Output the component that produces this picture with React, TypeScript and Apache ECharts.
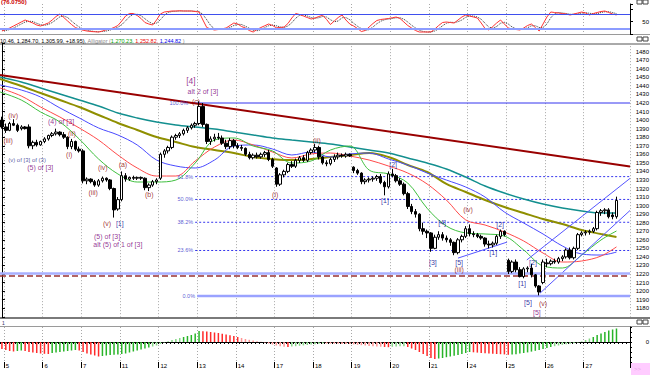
import React, { useEffect, useRef } from "react";
import * as echarts from "echarts";

const FONT = "'Liberation Sans', Arial, sans-serif";

// ---- categories ----
const dayLabels = ["5", "6", "7", "11", "12", "13", "14", "17", "18", "19", "20", "21", "24", "25", "26", "27"];
const barsPerDay = 10;
const slotCount = 163;

// ---- price bars [open, high, low, close] ----
const ohlc: number[][] = [
  [1400, 1404, 1390, 1392], [1392, 1396, 1385, 1388], [1388, 1398, 1387, 1396], [1396, 1401, 1393, 1394], [1394, 1396, 1386, 1388],
  [1390, 1394, 1388, 1392], [1392, 1393, 1389, 1390], [1392, 1395, 1367, 1370], [1370, 1376, 1366, 1374], [1374, 1377, 1369, 1371],
  [1371, 1376, 1370, 1375], [1375, 1380, 1373, 1378], [1378, 1383, 1376, 1382], [1382, 1386, 1380, 1384], [1384, 1390, 1382, 1386],
  [1386, 1387, 1381, 1383], [1383, 1386, 1378, 1380], [1380, 1381, 1366, 1369], [1369, 1378, 1366, 1375], [1375, 1376, 1364, 1366],
  [1366, 1369, 1362, 1364], [1364, 1366, 1326, 1329], [1329, 1333, 1325, 1331], [1331, 1332, 1326, 1328], [1328, 1330, 1322, 1324],
  [1324, 1331, 1322, 1329], [1329, 1334, 1327, 1332], [1332, 1333, 1328, 1330], [1330, 1331, 1318, 1320], [1320, 1321, 1286, 1295],
  [1296, 1310, 1294, 1307], [1307, 1340, 1305, 1335], [1335, 1338, 1328, 1331], [1331, 1334, 1329, 1333], [1333, 1335, 1330, 1332],
  [1332, 1334, 1330, 1333], [1333, 1334, 1330, 1332], [1332, 1333, 1318, 1321], [1321, 1326, 1317, 1324], [1324, 1330, 1322, 1328],
  [1328, 1332, 1325, 1330], [1332, 1362, 1330, 1360], [1360, 1366, 1356, 1364], [1364, 1370, 1361, 1368], [1368, 1382, 1366, 1380],
  [1380, 1384, 1377, 1382], [1382, 1386, 1379, 1384], [1384, 1390, 1382, 1388], [1388, 1393, 1385, 1391], [1391, 1396, 1389, 1394],
  [1394, 1398, 1391, 1396], [1396, 1422, 1394, 1416], [1416, 1420, 1392, 1395], [1395, 1396, 1372, 1375], [1375, 1381, 1371, 1378],
  [1378, 1384, 1375, 1380], [1380, 1385, 1377, 1379], [1379, 1382, 1371, 1373], [1373, 1377, 1366, 1369], [1369, 1379, 1366, 1376],
  [1376, 1378, 1367, 1370], [1370, 1373, 1366, 1368], [1368, 1371, 1364, 1367], [1367, 1368, 1358, 1360], [1360, 1363, 1354, 1356],
  [1356, 1361, 1354, 1359], [1359, 1362, 1355, 1357], [1357, 1362, 1355, 1360], [1360, 1364, 1357, 1362], [1362, 1365, 1352, 1354],
  [1354, 1356, 1344, 1346], [1344, 1345, 1322, 1325], [1325, 1338, 1323, 1336], [1336, 1342, 1333, 1340], [1340, 1350, 1338, 1348],
  [1348, 1352, 1344, 1346], [1346, 1355, 1344, 1353], [1353, 1358, 1350, 1356], [1356, 1359, 1351, 1353], [1353, 1364, 1351, 1362],
  [1362, 1367, 1360, 1365], [1365, 1372, 1362, 1368], [1368, 1370, 1354, 1357], [1357, 1358, 1348, 1350], [1350, 1353, 1346, 1349],
  [1349, 1356, 1347, 1354], [1354, 1360, 1351, 1357], [1357, 1362, 1354, 1359], [1359, 1361, 1356, 1358], [1358, 1362, 1356, 1360],
  [1360, 1361, 1357, 1358], [1345, 1346, 1338, 1341], [1341, 1343, 1336, 1338], [1338, 1339, 1325, 1328], [1328, 1332, 1325, 1330],
  [1330, 1333, 1327, 1331], [1331, 1334, 1328, 1332], [1332, 1336, 1329, 1334], [1334, 1337, 1325, 1327], [1327, 1329, 1312, 1322],
  [1322, 1340, 1320, 1337], [1337, 1343, 1333, 1335], [1335, 1337, 1327, 1329], [1329, 1332, 1323, 1325], [1325, 1327, 1312, 1314],
  [1314, 1316, 1296, 1299], [1299, 1302, 1290, 1293], [1293, 1296, 1286, 1290], [1290, 1291, 1270, 1273], [1273, 1280, 1266, 1270],
  [1270, 1272, 1262, 1268], [1268, 1269, 1246, 1250], [1250, 1266, 1249, 1263], [1263, 1270, 1260, 1266], [1266, 1269, 1259, 1262],
  [1262, 1265, 1257, 1260], [1260, 1262, 1253, 1257], [1257, 1258, 1242, 1245], [1245, 1262, 1243, 1260], [1260, 1266, 1257, 1264],
  [1264, 1276, 1262, 1273], [1273, 1278, 1264, 1267], [1267, 1270, 1263, 1266], [1266, 1268, 1262, 1264], [1264, 1266, 1260, 1262],
  [1262, 1263, 1252, 1255], [1255, 1259, 1250, 1254], [1254, 1258, 1251, 1256], [1256, 1266, 1254, 1264], [1264, 1272, 1261, 1270],
  [1270, 1271, 1264, 1266], [1236, 1238, 1220, 1223], [1223, 1236, 1221, 1234], [1234, 1237, 1222, 1225], [1225, 1228, 1216, 1217],
  [1217, 1228, 1215, 1226], [1226, 1229, 1222, 1227], [1227, 1232, 1216, 1219], [1219, 1220, 1204, 1206], [1206, 1207, 1195, 1199],
  [1210, 1237, 1208, 1234], [1233, 1238, 1228, 1232], [1232, 1237, 1230, 1235], [1235, 1238, 1232, 1234], [1234, 1240, 1232, 1238],
  [1238, 1242, 1235, 1240], [1240, 1250, 1238, 1248], [1248, 1251, 1237, 1239], [1239, 1252, 1237, 1250], [1250, 1268, 1248, 1266],
  [1266, 1270, 1264, 1268], [1268, 1271, 1265, 1269], [1269, 1272, 1266, 1270], [1270, 1275, 1268, 1273], [1273, 1294, 1271, 1292],
  [1292, 1296, 1288, 1294], [1294, 1297, 1290, 1295], [1295, 1297, 1285, 1287], [1289, 1292, 1284, 1287.04], [1287.04, 1310.46, 1284.7, 1305.99],
];

// ---- stochastic (top panel) ----
const stochK = [
  12, 18, 24, 32, 40, 48, 56, 50, 44, 36, 32, 38, 44, 56, 70, 80, 66, 52, 38, 26,
  20, 15, 12, 10, 9, 8, 12, 17, 20, 26, 34, 52, 72, 82, 82, 74, 62, 46, 40, 36,
  56, 80, 88, 90, 92, 92, 93, 92, 92, 92, 90, 88, 56, 26, 20, 16, 18, 21, 24, 34,
  44, 40, 30, 24, 14, 8, 18, 26, 33, 40, 34, 25, 26, 28, 42, 64, 82, 78, 72, 66,
  60, 64, 70, 75, 58, 38, 52, 66, 76, 56, 40, 32, 22, 10, 14, 28, 42, 54, 58, 60,
  62, 65, 68, 62, 48, 34, 24, 14, 8, 8, 8, 8, 20, 34, 46, 48, 46, 44, 56, 68,
  76, 72, 68, 64, 44, 22, 16, 30, 44, 56, 40, 24, 20, 18, 16, 24, 34, 40, 26, 12,
  40, 68, 88, 86, 84, 82, 80, 76, 80, 84, 88, 84, 76, 82, 86, 90, 92, 86, 80, 76,
];
const stochD = [
  16, 14, 18, 24, 32, 40, 48, 51, 50, 43, 37, 35, 38, 46, 57, 69, 72, 66, 52, 39,
  28, 20, 16, 12, 10, 9, 10, 12, 16, 21, 27, 37, 53, 69, 79, 79, 73, 61, 49, 41,
  44, 57, 75, 86, 90, 91, 92, 92, 92, 92, 91, 90, 78, 57, 34, 21, 18, 18, 21, 26,
  34, 39, 38, 31, 23, 15, 13, 17, 26, 33, 36, 33, 28, 26, 32, 45, 63, 75, 77, 72,
  66, 63, 65, 70, 68, 57, 49, 52, 65, 66, 57, 43, 31, 21, 15, 17, 28, 41, 51, 57,
  60, 62, 65, 65, 59, 48, 35, 24, 15, 10, 8, 8, 12, 21, 33, 43, 47, 46, 49, 56,
  67, 72, 72, 68, 59, 43, 27, 23, 30, 43, 47, 40, 28, 21, 18, 19, 25, 33, 33, 26,
  26, 40, 65, 81, 86, 84, 82, 79, 79, 80, 84, 85, 83, 81, 81, 86, 89, 89, 86, 81,
];

// ---- oscillator histogram (bottom panel) ----
const oscillator = [
  -7, -8, -9, -9.5, -9, -8.5, -9, -10, -10.5, -11, -11.5, -11.8, -12, -11, -10.5, -10, -9.5, -9, -8.5, -8,
  -8.5, -10, -11.5, -12.5, -13.5, -14.5, -14, -13.5, -13, -12.8, -12.5, -12, -11.5, -10.5, -9.5, -8.5, -7.5, -6.5, -5.5, -4.5,
  -3.5, -2, -0.5, 0.8, 2, 3, 4, 5, 6, 7, 8.5, 11, 10.8, 10.5, 10, 9.5, 9, 8.2, 7.5, 6.8,
  6, 5, 4, 3, 2.2, 1.5, 0.8, 0.2, -0.5, -1.5, -2.5, -3.5, -4.2, -4.8, -5, -4.6, -4.2, -3.8, -3.4, -3,
  -2.6, -2.2, -1.8, -1.4, -1.5, -1.6, -1.7, -1.8, -1.9, -2, -2.1, -2.4, -2.8, -3.2, -3.6, -4, -4.3, -4.5, -4.7, -5,
  -5.2, -4.8, -4.5, -4.3, -4.2, -5, -6.5, -8, -10, -12, -14, -16, -17, -16.5, -16, -15.2, -14.5, -13.8, -13, -12,
  -11, -10, -10.3, -10.6, -10.9, -11.2, -11.5, -11.8, -12, -12.2, -12.4, -12.8, -12.6, -12.2, -11.6, -11, -10.4, -9.6, -8.8, -8,
  -7, -6, -5, -4.2, -3.5, -2.8, -2.2, -1.8, -1.2, -0.6, 0.6, 2, 3.5, 5, 7, 8.5, 10, 11.5, 12.5, 13.5,
];

// ---- moving-average / alligator lines [bar, price] ----
const tealLine = [
  [-0.5, 1450.4], [5, 1444.6], [10, 1437.5], [15, 1430.5], [20, 1423.5], [25, 1416.5], [30, 1408.3], [35, 1402.5], [40, 1397.8],
  [45, 1394.3], [50, 1391.9], [55, 1389.6], [60, 1386.1], [65, 1382.6], [70, 1379.1], [75, 1376.7], [80, 1374.4], [85, 1372.0],
  [90, 1368.5], [95, 1365.0], [100, 1361.5], [105, 1355.7], [110, 1349.8], [115, 1342.8], [120, 1333.4], [125, 1322.9], [130, 1314.7],
  [135, 1307.7], [140, 1301.8], [145, 1297.2], [150, 1293.7], [155, 1291.3], [159, 1291.3],
];
const oliveLine = [
  [-0.5, 1448.1], [5, 1439.9], [10, 1431.7], [15, 1423.5], [20, 1415.3], [25, 1406.0], [30, 1396.6], [35, 1388.4], [40, 1380.2],
  [45, 1374.4], [50, 1368.5], [55, 1365.0], [60, 1361.5], [65, 1356.8], [70, 1354.5], [75, 1353.3], [80, 1354.5], [85, 1356.8],
  [90, 1359.2], [95, 1361.5], [100, 1356.8], [105, 1347.5], [110, 1339.3], [115, 1325.3], [120, 1315.9], [125, 1306.5], [130, 1298.3],
  [135, 1291.3], [140, 1284.3], [145, 1278.4], [150, 1271.5], [155, 1266.8], [159, 1263.3],
];
const blueLine = [
  [-0.5, 1441.1], [5, 1435.2], [10, 1427.0], [15, 1414.2], [20, 1402.5], [25, 1390.8], [30, 1382.6], [35, 1370.9], [40, 1353.3],
  [45, 1346.3], [50, 1344.0], [55, 1353.3], [60, 1369.7], [65, 1370.9], [70, 1366.2], [75, 1359.2], [80, 1362.7], [85, 1356.8],
  [90, 1360.4], [95, 1361.5], [100, 1354.5], [105, 1347.5], [110, 1338.1], [115, 1329.9], [120, 1321.7], [125, 1310.0], [130, 1292.5],
  [135, 1279.6], [140, 1266.8], [145, 1252.8], [150, 1243.4], [155, 1242.2], [159, 1245.7],
];
const redLine = [
  [-0.5, 1437.5], [5, 1428.2], [10, 1415.3], [15, 1403.6], [20, 1390.8], [25, 1376.7], [30, 1359.2], [35, 1344.0], [40, 1334.6],
  [45, 1334.6], [50, 1352.2], [55, 1368.5], [60, 1376.7], [65, 1370.9], [70, 1362.7], [75, 1355.7], [80, 1360.4], [85, 1361.5],
  [90, 1358.0], [95, 1353.3], [100, 1346.3], [105, 1338.1], [110, 1325.3], [115, 1306.5], [120, 1283.2], [125, 1277.3], [130, 1269.1],
  [135, 1258.6], [140, 1244.5], [145, 1234.0], [150, 1235.2], [155, 1241.0], [159, 1251.7],
];
const greenLine = [
  [-0.5, 1432.9], [5, 1423.5], [10, 1409.5], [15, 1397.8], [20, 1377.9], [25, 1354.5], [30, 1337.0], [35, 1327.6], [40, 1327.6],
  [45, 1329.9], [50, 1349.8], [55, 1376.7], [60, 1379.1], [65, 1369.7], [70, 1363.9], [75, 1349.8], [80, 1352.2], [85, 1365.0],
  [90, 1369.7], [95, 1341.6], [100, 1337.0], [105, 1326.4], [110, 1296.9], [115, 1276.1], [120, 1268.0], [125, 1266.8], [130, 1264.4],
  [135, 1248.1], [140, 1229.4], [145, 1227.0], [150, 1242.2], [155, 1259.8], [159, 1270.3],
];

// ---- drawn lines ----
const resistanceLine = [[-0.5, 1452.7], [162.5, 1345.8]];
const channelUpper = [[135.8, 1236.4], [162.5, 1331.8]];
const channelLower = [[139.2, 1197.5], [162.5, 1294.3]];
const miniTrend = [[118, 1238.6], [130.7, 1257.3]];
const supportLevel = 1221.0;
const dashedLevel = 1218.0;

// ---- fibonacci ----
const fibNames = ["100.0%", "61.8%", "50.0%", "38.2%", "23.6%", "0.0%"];
const fibPrices = [1420, 1333.9, 1307.2, 1280.5, 1247.5, 1194.3];
const fibStarts = [48.7, 50, 50, 50, 50, 50.5];

// ---- wave labels [text, bar, price] ----
const redLabels: [string, number, number][] = [
  ["(iv)", 2.9, 1404.8], ["(iii)", 1.6, 1376.7], ["(ii)", 18.1, 1384.9], ["(i)", 17.4, 1359.2], ["(iii)", 23.6, 1315.9],
  ["(iv)", 26.1, 1345.1], ["(v)", 27.2, 1278.5], ["(a)", 31.3, 1347.5], ["(b)", 38.1, 1312.4], ["(c)", 50.2, 1422.3],
  ["(i)", 70.7, 1312.4], ["(ii)", 81.5, 1375.6], ["(iii)", 118.3, 1224.7], ["(iv)", 120.6, 1294.9], ["(v)", 140, 1185],
];
const blueLabels: [string, number, number][] = [
  ["[1]", 30.5, 1278.5], ["[1]", 99.1, 1306.5], ["[2]", 101.2, 1347.5], ["[3]", 111.5, 1234], ["[4]", 113.9, 1280.8],
  ["[5]", 118.3, 1234], ["[1]", 127.1, 1244.7], ["[2]", 128.9, 1277.4], ["[1]", 134.6, 1209.4], ["[2]", 137.4, 1232.9],
  ["[5]", 136.1, 1186.1],
];
const purpleLabels: [string, number, number][] = [
  ["(4) of [3]", 15.3, 1398.9], ["(5) of [3]", 9.9, 1345.1], ["(5) of [3]", 27.2, 1264.4],
  ["alt (5) of 1 of [3]", 30, 1255], ["alt 2 of [3]", 52, 1434], ["[5]", 138.4, 1174.4],
];
const navyLabels: [string, number, number][] = [["(v) of [3] of (3)", 6.5, 1353.3]];
const bigLabels: [string, number, number][] = [["[4]", 48.9, 1445.7]];

function buildOption() {
  const categories = Array.from({ length: slotCount }, (_, c) => {
    const d = c === 0 ? "4" : dayLabels[Math.floor((c - 1) / barsPerDay)] ?? "";
    return `${d}|${c}`;
  });
  const isDayStart = (idx: number) =>
    idx >= 1 && (idx - 1) % barsPerDay === 0 && idx < 1 + dayLabels.length * barsPerDay;
  const gridDots = {
    show: true,
    interval: (i: number) => isDayStart(i),
    lineStyle: { color: "#a8a8a8", type: [1, 2], width: 1 },
  };
  const hiddenCat = (gridIndex: number) => ({
    type: "category",
    gridIndex,
    data: categories,
    axisLine: { show: false },
    axisTick: { show: false },
    axisLabel: { show: false },
    splitLine: gridDots,
  });

  const candleData = ohlc.map(([o, h, l, c]) => [o, c, l, h]);
  const oscData = oscillator.map((v, i) => {
    const rising = i === 0 ? false : v >= oscillator[i - 1];
    const faint = Math.abs(v) < 5;
    const color = rising ? (faint ? "#86d686" : "#28b428") : faint ? "#ff9494" : "#ff2a2a";
    return { value: v, itemStyle: { color } };
  });

  const maLine = (data: number[][], color: string, width: number) => ({
    type: "line",
    xAxisIndex: 4,
    yAxisIndex: 1,
    data,
    symbol: "none",
    smooth: 0.35,
    silent: true,
    z: 2,
    lineStyle: { color, width },
  });
  const straight = (data: number[][], color: string, width: number, type: any = "solid", z = 2) => ({
    type: "line",
    xAxisIndex: 4,
    yAxisIndex: 1,
    data,
    symbol: "none",
    silent: true,
    z,
    lineStyle: { color, width, type },
  });
  const labels = (rows: [string, number, number][], color: string, fontSize: number) => ({
    type: "scatter",
    xAxisIndex: 4,
    yAxisIndex: 1,
    symbolSize: 1,
    silent: true,
    z: 10,
    itemStyle: { color: "rgba(0,0,0,0)" },
    data: rows.map(([t, i, p]) => ({ name: t, value: [i, p] })),
    label: { show: true, position: "inside", formatter: "{b}", color, fontSize, fontFamily: FONT },
  });

  const axisBlack = { show: true, lineStyle: { color: "#000", width: 1 } };

  return {
    animation: false,
    backgroundColor: "#ffffff",
    textStyle: { fontFamily: FONT },
    grid: [
      { left: 0, right: 20, top: 4, height: 30, outerBoundsMode: "none" },
      { left: 0, right: 20, top: 43.15, height: 273.6, outerBoundsMode: "none" },
      { left: 0, right: 20, top: 327, height: 35, outerBoundsMode: "none" },
    ],
    xAxis: [
      hiddenCat(0),
      hiddenCat(1),
      {
        type: "category",
        gridIndex: 2,
        position: "bottom",
        data: categories,
        axisLine: axisBlack,
        axisTick: { show: true, interval: 0, length: 2, lineStyle: { color: "#000" } },
        axisLabel: { show: false },
        splitLine: gridDots,
      },
      {
        type: "category",
        gridIndex: 2,
        position: "bottom",
        data: categories,
        axisLine: { show: false },
        axisTick: { show: true, interval: (i: number) => isDayStart(i), length: 6, lineStyle: { color: "#000" } },
        axisLabel: {
          show: true,
          interval: (i: number) => isDayStart(i),
          formatter: (v: string) => v.split("|")[0],
          align: "left",
          fontSize: 6,
          color: "#000",
          margin: 1,
          fontFamily: FONT,
        },
        splitLine: { show: false },
      },
      { type: "value", gridIndex: 1, position: "top", min: -0.5, max: 162.5, show: false },
    ],
    yAxis: [
      {
        type: "value",
        gridIndex: 0,
        position: "right",
        min: 0,
        max: 120,
        interval: 50,
        axisLine: axisBlack,
        axisTick: { show: true, length: 3, lineStyle: { color: "#000" } },
        axisLabel: { formatter: (v: number) => (v === 50 ? "50" : ""), fontSize: 6, color: "#000", align: "right", margin: 19, fontFamily: FONT },
        splitLine: { show: false },
      },
      {
        type: "value",
        gridIndex: 1,
        position: "right",
        min: 1170,
        max: 1490,
        interval: 10,
        axisLine: axisBlack,
        axisTick: { show: true, length: 3, lineStyle: { color: "#000" } },
        axisLabel: {
          formatter: (v: number) => (v < 1180 || v > 1480 ? "" : String(v)),
          fontSize: 6,
          color: "#000",
          align: "right",
          margin: 19,
          fontFamily: FONT,
        },
        splitLine: { show: false },
      },
      {
        type: "value",
        gridIndex: 2,
        position: "right",
        min: -20,
        max: 15,
        interval: 5,
        axisLine: axisBlack,
        axisTick: { show: true, length: 2, lineStyle: { color: "#000" } },
        axisLabel: { formatter: (v: number) => (v === 0 ? "0" : ""), fontSize: 6, color: "#000", align: "right", margin: 19, fontFamily: FONT },
        splitLine: { show: false },
      },
    ],
    series: [
      {
        type: "line",
        xAxisIndex: 0,
        yAxisIndex: 0,
        data: stochK,
        symbol: "none",
        silent: true,
        z: 3,
        lineStyle: { color: "#ff3333", width: 1 },
        markLine: {
          silent: true,
          symbol: ["none", "none"],
          label: { show: false },
          data: [
            { yAxis: 80, lineStyle: { color: "#3f4fee", width: 1, type: "solid" } },
            { yAxis: 20, lineStyle: { color: "#8c9cff", width: 2, type: "solid" } },
          ],
        },
      },
      {
        type: "line",
        xAxisIndex: 0,
        yAxisIndex: 0,
        data: stochD,
        symbol: "none",
        silent: true,
        z: 2,
        lineStyle: { color: "#333333", width: 1, type: "dotted" },
      },
      {
        type: "candlestick",
        xAxisIndex: 1,
        yAxisIndex: 1,
        data: candleData,
        barWidth: 3,
        z: 5,
        silent: true,
        itemStyle: { color: "#ffffff", color0: "#000000", borderColor: "#000000", borderColor0: "#000000", borderWidth: 1 },
        markLine: {
          silent: true,
          symbol: ["none", "none"],
          label: { show: false },
          data: [
            { yAxis: supportLevel, lineStyle: { color: "#a9b0ff", width: 2.5, type: "solid" } },
            { yAxis: dashedLevel, lineStyle: { color: "#993333", width: 1.5, type: [6, 3] } },
          ],
        },
      },
      maLine(tealLine, "#138f8f", 1.5),
      maLine(oliveLine, "#8f8f00", 2),
      maLine(blueLine, "#4a4aff", 1),
      maLine(redLine, "#ff4a4a", 1),
      maLine(greenLine, "#3fbf3f", 1),
      straight(resistanceLine, "#990000", 2),
      ...fibPrices.map((p, k) =>
        straight(
          [[fibStarts[k], p], [162.5, p]],
          k === 5 ? "#9aa2ff" : "#3535ee",
          k === 5 ? 2.5 : 1,
          k === 0 || k === 5 ? "solid" : [2, 2],
          1,
        ),
      ),
      straight(channelUpper, "#5555ff", 1),
      straight(channelLower, "#5555ff", 1),
      straight(miniTrend, "#5555ff", 1),
      {
        type: "scatter",
        xAxisIndex: 4,
        yAxisIndex: 1,
        symbolSize: 1,
        silent: true,
        z: 10,
        itemStyle: { color: "rgba(0,0,0,0)" },
        data: fibNames.map((t, k) => ({ name: t, value: [fibStarts[k] - 0.4, fibPrices[k]] })),
        label: { show: true, position: "left", distance: 0, formatter: "{b}", color: "#2f2fc8", fontSize: 5.5, fontFamily: FONT },
      },
      labels(redLabels, "#8c0000", 7),
      labels(blueLabels, "#00008c", 7),
      labels(purpleLabels, "#7a007a", 7),
      labels(navyLabels, "#2e2e8c", 6),
      labels(bigLabels, "#7a007a", 8.5),
      {
        type: "bar",
        xAxisIndex: 2,
        yAxisIndex: 2,
        data: oscData,
        barWidth: 1.5,
        silent: true,
      },
    ],
    graphic: [
      { type: "text", x: 1, y: -1, style: { text: "(76.0750)", fill: "#cc0000", fontSize: 6, fontWeight: "bold", fontFamily: FONT, verticalAlign: "top" } },
      { type: "rect", shape: { x: 637, y: 0, width: 5, height: 4 }, style: { fill: "#fff", stroke: "#444", lineWidth: 1 } },
      { type: "rect", shape: { x: 643, y: 0, width: 5, height: 4 }, style: { fill: "#fff", stroke: "#444", lineWidth: 1 } },
      { type: "line", shape: { x1: 0, y1: 34.5, x2: 650, y2: 34.5 }, style: { stroke: "#9a9a9a", lineWidth: 1 } },
      {
        type: "text",
        x: 0,
        y: 37.5,
        style: {
          text: "{k|10.46, 1,284.70, 1,305.99, +18.95),} {g|Alligator (}{gn|1,270.23,} {rd|1,252.82,} {bl|1,244.82} {g|)}",
          fontSize: 5.5,
          fontFamily: FONT,
          verticalAlign: "top",
          rich: {
            k: { fill: "#000000", fontSize: 5.5, fontFamily: FONT },
            g: { fill: "#8a8a8a", fontSize: 5.5, fontFamily: FONT },
            gn: { fill: "#00a000", fontSize: 5.5, fontFamily: FONT },
            rd: { fill: "#ee0000", fontSize: 5.5, fontFamily: FONT },
            bl: { fill: "#0000ee", fontSize: 5.5, fontFamily: FONT },
          },
        },
      },
      { type: "rect", shape: { x: 637, y: 37, width: 5, height: 4 }, style: { fill: "#fff", stroke: "#444", lineWidth: 1 } },
      { type: "rect", shape: { x: 643, y: 37, width: 5, height: 4 }, style: { fill: "#fff", stroke: "#444", lineWidth: 1 } },
      { type: "line", shape: { x1: 0, y1: 44, x2: 650, y2: 44 }, style: { stroke: "#555555", lineWidth: 1 } },
      { type: "line", shape: { x1: 0, y1: 318, x2: 650, y2: 318 }, style: { stroke: "#7a7a7a", lineWidth: 2 } },
      { type: "text", x: 2, y: 320, style: { text: "1", fill: "#333366", fontSize: 5, fontFamily: FONT, verticalAlign: "top" } },
      { type: "rect", shape: { x: 637, y: 320, width: 5, height: 4 }, style: { fill: "#fff", stroke: "#444", lineWidth: 1 } },
      { type: "rect", shape: { x: 643, y: 320, width: 5, height: 4 }, style: { fill: "#fff", stroke: "#444", lineWidth: 1 } },
      { type: "line", shape: { x1: 0, y1: 326.5, x2: 650, y2: 326.5 }, style: { stroke: "#9a9a9a", lineWidth: 1 } },
      { type: "rect", shape: { x: 631, y: 363, width: 19, height: 12 }, style: { fill: "#ffccff" } },
      { type: "text", x: 634, y: 366, style: { text: ">>", fill: "#e8a8e8", fontSize: 6, fontFamily: FONT, verticalAlign: "top" } },
    ],
  };
}

export default function App() {
  const ref = useRef<HTMLDivElement>(null);
  useEffect(() => {
    if (!ref.current) return;
    const chart = echarts.init(ref.current, undefined, { renderer: "svg" });
    chart.setOption(buildOption() as any);
    return () => chart.dispose();
  }, []);
  return (
    <div
      ref={ref}
      style={{ position: "fixed", left: 0, top: 0, width: 650, height: 375, background: "#ffffff" }}
    />
  );
}
